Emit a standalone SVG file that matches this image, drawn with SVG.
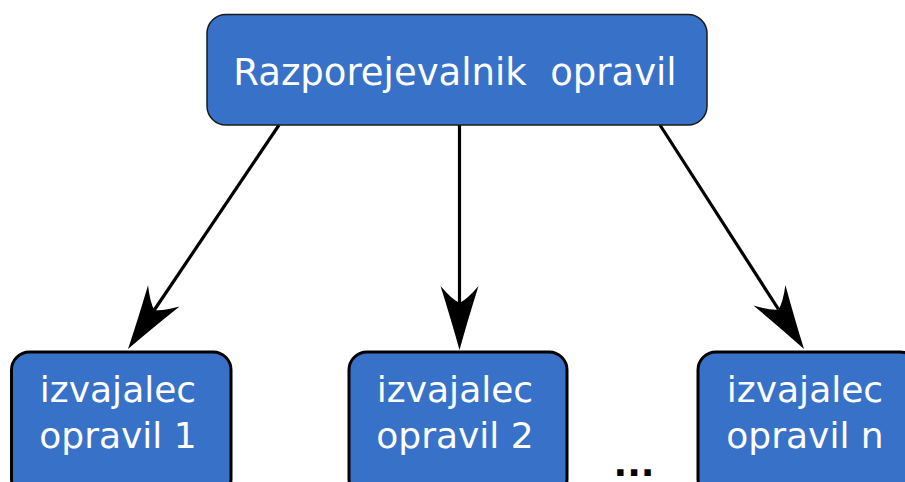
<svg xmlns="http://www.w3.org/2000/svg" width="905" height="482" viewBox="0 0 905 482">
<style>
.box{fill:#3771c8;stroke:#000;stroke-width:3}
.top{fill:#3771c8;stroke:#1a1a1a;stroke-width:1.5}
.lbl{font-family:"DejaVu Sans",Verdana,sans-serif;font-size:36px;fill:#fff;text-anchor:middle}
.conn{stroke:#000;stroke-width:3.2;fill:none;marker-end:url(#ah)}
</style>
<defs>
<marker id="ah" markerUnits="userSpaceOnUse" markerWidth="80" markerHeight="50" viewBox="-20 -25 80 50" refX="0" refY="0" orient="auto">
<path d="M47,0 Q18,-8 -17,-19 Q-4,-8 0,0 Q-4,8 -17,19 Q18,8 47,0 Z" fill="#000"/>
</marker>
</defs>
<rect width="905" height="482" fill="#fff"/>
<g id="connectors">
<line class="conn" x1="279" y1="125" x2="154.3" y2="310"/>
<line class="conn" x1="459.5" y1="125" x2="459.5" y2="303"/>
<line class="conn" x1="660" y1="125" x2="778.6" y2="309.5"/>
</g>
<g id="scheduler">
<rect class="top" x="207" y="14.5" width="500" height="110.5" rx="19"/>
<text class="lbl" x="455" y="85" style="font-size:37px" xml:space="preserve">Razporejevalnik  opravil</text>
</g>
<g id="worker1">
<rect class="box" x="11.5" y="352" width="219.5" height="145" rx="18"/>
<text class="lbl" x="118" y="402">izvajalec</text>
<text class="lbl" x="118" y="448">opravil 1</text>
</g>
<g id="worker2">
<rect class="box" x="349" y="352" width="218" height="145" rx="18"/>
<text class="lbl" x="455" y="402">izvajalec</text>
<text class="lbl" x="455" y="448">opravil 2</text>
</g>
<g id="workern">
<rect class="box" x="698" y="352" width="220" height="145" rx="18"/>
<text class="lbl" x="805" y="402">izvajalec</text>
<text class="lbl" x="805" y="448">opravil n</text>
</g>
<text x="634" y="476" style="font-family:'DejaVu Sans',Verdana,sans-serif;font-size:36px;font-weight:bold;fill:#000;text-anchor:middle">...</text>
</svg>
